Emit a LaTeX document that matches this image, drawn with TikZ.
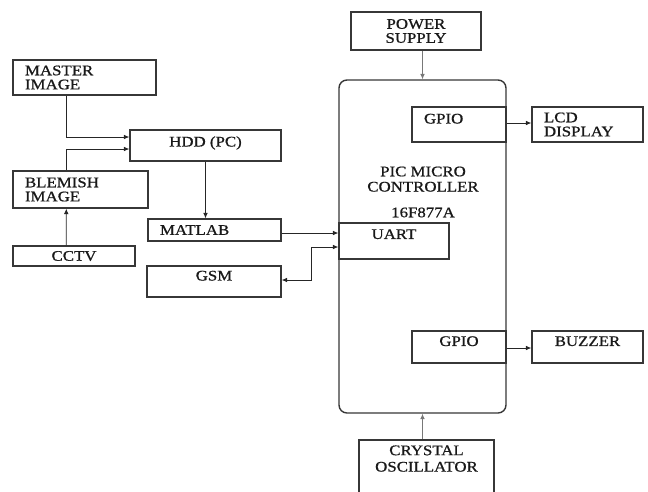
\documentclass[tikz,border=0pt]{standalone}
\usepackage{fontspec}
\setmainfont[FakeStretch=1.15, FakeBold=0.8]{Liberation Serif}
\usepackage{tikz}
\usetikzlibrary{arrows.meta,positioning,calc}
\definecolor{boxline}{RGB}{55,55,55}
\definecolor{feedline}{RGB}{120,120,120}

\begin{document}
\begin{tikzpicture}[x=0.03cm, y=-0.03cm, every node/.style={font=\fontsize{12.5}{12}\selectfont, text=black!90}]
\tikzstyle{box}=[draw=boxline, line width=1.2pt, fill=white, align=center, inner xsep=0.36cm, inner ysep=0pt]
\tikzstyle{leftbox}=[box, align=left]
\tikzstyle{lift}=[text height=8.5pt, text depth=#1]
\tikzstyle{arr}=[draw=black!85, line width=0.7pt, -{Latex[length=1.6mm, width=1.4mm]}]
\useasboundingbox (0,0) rectangle (648,491);
% left column
\node[leftbox, text width=3.57cm, minimum width=4.29cm, minimum height=1.05cm] (master) at (84.5,77.5) {MASTER\\IMAGE};
\node[box, minimum width=4.53cm, minimum height=0.93cm, lift=0.24cm] (hdd) at (205.5,145.5) {HDD (PC)};
\node[leftbox, text width=3.33cm, minimum width=4.05cm, minimum height=1.11cm] (blemish) at (80.5,189.5) {BLEMISH\\IMAGE};
\node[box, minimum width=3.66cm, minimum height=0.6cm] (cctv) at (74,256) {CCTV};
\node[leftbox, text width=3.27cm, minimum width=3.99cm, minimum height=0.66cm] (matlab) at (214.5,230) {MATLAB};
\node[box, minimum width=4.02cm, minimum height=0.93cm, lift=0.36cm] (gsm) at (214,281.5) {GSM};
% controller
\node[box, rounded corners=0.24cm, minimum width=5.01cm, minimum height=9.99cm] (pic) at (422.5,246.5) {};
\node[align=center] (pictext) at (423,192) {PIC MICRO\\[1pt]CONTROLLER\\[10pt]16F877A};
\node[box, minimum width=3.9cm, minimum height=1.14cm] (power) at (416,31) {POWER\\SUPPLY};
\node[leftbox, text width=2.1cm, minimum width=2.82cm, minimum height=1.05cm, lift=0.36cm] (gpiotop) at (459,124.5) {GPIO};
\node[leftbox, text width=2.61cm, minimum width=3.33cm, minimum height=1.05cm] (lcd) at (587.5,124.5) {LCD\\DISPLAY};
\node[box, minimum width=3.3cm, minimum height=1.08cm, lift=0.42cm] (uart) at (394,241) {UART};
\node[box, minimum width=2.82cm, minimum height=0.96cm, lift=0.36cm] (gpiobot) at (459,347) {GPIO};
\node[box, minimum width=3.33cm, minimum height=0.96cm, lift=0.36cm] (buzzer) at (587.5,347) {BUZZER};
\node[box, minimum width=4.05cm, minimum height=1.65cm, text depth=0.54cm] (crystal) at (426.5,467.5) {CRYSTAL\\[2pt]OSCILLATOR};
% connectors
\draw[arr] ($(master.south west)+(54,0)$) |- ($(hdd.west)+(0,-8.5)$);
\draw[arr] ($(blemish.north west)+(54,0)$) |- ($(hdd.west)+(0,3.5)$);
\draw[arr] ($(cctv.north west)+(54,0)$) -- ($(blemish.south west)+(54,0)$);
\draw[arr] (hdd.south) -- (hdd.south |- matlab.north);
\draw[arr] ($(matlab.east)+(0,3)$) -- ($(uart.west)+(0,-8)$);
\draw[arr, {Latex[length=1.6mm, width=1.4mm]}-{Latex[length=1.6mm, width=1.4mm]}] ($(gsm.east)+(0,-1.5)$) -- ++(30,0) |- ($(uart.west)+(0,6)$);
\draw[arr, draw=feedline] (pic.north |- power.south) -- (pic.north);
\draw[arr, draw=feedline] (pic.south |- crystal.north) -- (pic.south);
\draw[arr] ($(gpiotop.east)+(0,-1.5)$) -- ($(lcd.west)+(0,-1.5)$);
\draw[arr] ($(gpiobot.east)+(0,1)$) -- ($(buzzer.west)+(0,1)$);
\end{tikzpicture}
\end{document}
